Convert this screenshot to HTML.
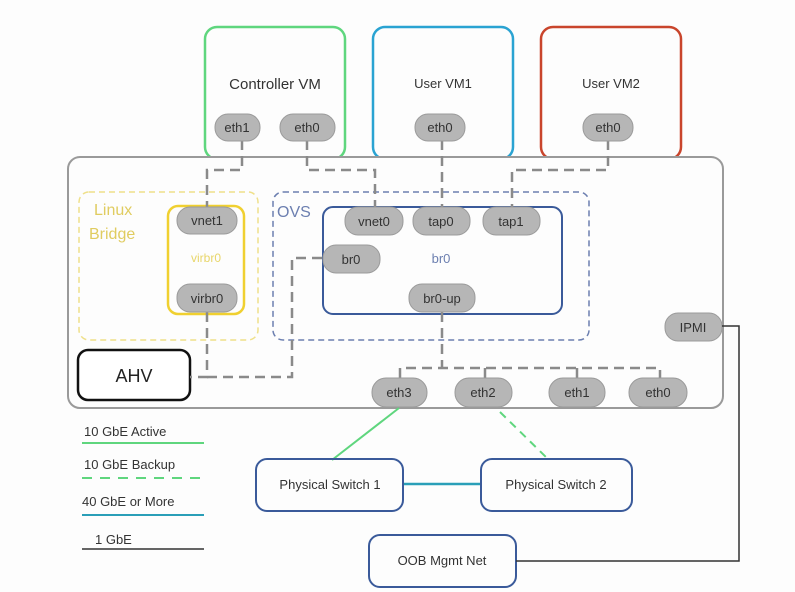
<!DOCTYPE html>
<html><head><meta charset="utf-8"><style>
html,body{margin:0;padding:0;background:#fdfdfd;}
svg{display:block;font-family:"Liberation Sans",sans-serif;}
</style></head><body>
<svg width="795" height="592" viewBox="0 0 795 592" xmlns="http://www.w3.org/2000/svg">
<rect width="795" height="592" fill="#fdfdfd"/>
<!-- VMs -->
<rect x="205" y="27" width="140" height="132" rx="12" fill="none" stroke="#5fd67e" stroke-width="2.5"/>
<text x="275" y="89" font-size="15" text-anchor="middle" fill="#333">Controller VM</text>
<rect x="373" y="27" width="140" height="132" rx="12" fill="none" stroke="#2aa3d2" stroke-width="2.5"/>
<text x="443" y="88" font-size="13" text-anchor="middle" fill="#333">User VM1</text>
<rect x="541" y="27" width="140" height="132" rx="12" fill="none" stroke="#c9452c" stroke-width="2.5"/>
<text x="611" y="88" font-size="13" text-anchor="middle" fill="#333">User VM2</text>
<!-- host -->
<rect x="68" y="157" width="655" height="251" rx="12" fill="#fdfdfd" stroke="#9a9a9a" stroke-width="2"/>
<!-- linux bridge -->
<rect x="79" y="192" width="179" height="148" rx="10" fill="none" stroke="#efe08a" stroke-width="1.5" stroke-dasharray="6,4"/>
<text x="94" y="215" font-size="16" fill="#e0cc60">Linux</text>
<text x="89" y="239" font-size="16" fill="#e0cc60">Bridge</text>
<rect x="168" y="206" width="76" height="108" rx="10" fill="none" stroke="#f0d030" stroke-width="2.5"/>
<text x="206" y="262" font-size="12" text-anchor="middle" fill="#e8d66a">virbr0</text>
<!-- OVS -->
<rect x="273" y="192" width="316" height="148" rx="10" fill="none" stroke="#6c7fb0" stroke-width="1.5" stroke-dasharray="6,4"/>
<text x="277" y="217" font-size="16" fill="#6c7fb0">OVS</text>
<rect x="323" y="207" width="239" height="107" rx="10" fill="none" stroke="#3a5a9a" stroke-width="2"/>
<text x="441" y="263" font-size="13" text-anchor="middle" fill="#6c7fb0">br0</text>
<!-- AHV -->
<rect x="78" y="350" width="112" height="50" rx="10" fill="#fff" stroke="#111" stroke-width="2.5"/>
<text x="134" y="382" font-size="18" text-anchor="middle" fill="#222">AHV</text>
<!-- dashed connectors -->
<g fill="none" stroke="#8a8a8a" stroke-width="2.5" stroke-dasharray="10,6">
<path d="M242 140 V170 H207 V207"/>
<path d="M307 140 V170 H375 V207"/>
<path d="M442 140 V207"/>
<path d="M608 140 V170 H512 V207"/>
<path d="M207 312 V377 H190"/>
<path d="M207 377 H292 V258 H323"/>
<path d="M442 312 V368"/>
<path d="M400 378 V368 H660 V378"/>
<path d="M485 368 V378"/>
<path d="M577 368 V378"/>
</g>
<!-- pills -->
<g fill="#b6b6b6" stroke="#9a9a9a" stroke-width="1">
<rect x="215" y="114" width="45" height="27" rx="13"/>
<rect x="280" y="114" width="55" height="27" rx="13"/>
<rect x="415" y="114" width="50" height="27" rx="13"/>
<rect x="583" y="114" width="50" height="27" rx="13"/>
<rect x="177" y="207" width="60" height="27" rx="13"/>
<rect x="177" y="284" width="60" height="28" rx="13"/>
<rect x="345" y="207" width="58" height="28" rx="13"/>
<rect x="413" y="207" width="57" height="28" rx="13"/>
<rect x="483" y="207" width="57" height="28" rx="13"/>
<rect x="323" y="245" width="57" height="28" rx="13"/>
<rect x="409" y="284" width="66" height="28" rx="13"/>
<rect x="665" y="313" width="57" height="28" rx="13"/>
<rect x="372" y="378" width="55" height="29" rx="14"/>
<rect x="455" y="378" width="57" height="29" rx="14"/>
<rect x="549" y="378" width="56" height="29" rx="14"/>
<rect x="629" y="378" width="58" height="29" rx="14"/>
</g>
<g font-size="13" text-anchor="middle" fill="#333">
<text x="237" y="132">eth1</text>
<text x="307" y="132">eth0</text>
<text x="440" y="132">eth0</text>
<text x="608" y="132">eth0</text>
<text x="207" y="225">vnet1</text>
<text x="207" y="303">virbr0</text>
<text x="374" y="226">vnet0</text>
<text x="441" y="226">tap0</text>
<text x="511" y="226">tap1</text>
<text x="351" y="264">br0</text>
<text x="442" y="303">br0-up</text>
<text x="693" y="332">IPMI</text>
<text x="399" y="397">eth3</text>
<text x="483" y="397">eth2</text>
<text x="577" y="397">eth1</text>
<text x="658" y="397">eth0</text>
</g>
<!-- physical -->
<line x1="399" y1="408" x2="332" y2="460" stroke="#5fd67e" stroke-width="2"/>
<line x1="500" y1="412" x2="549" y2="460" stroke="#5fd67e" stroke-width="2" stroke-dasharray="8,6"/>
<line x1="403" y1="484" x2="481" y2="484" stroke="#2a9fb8" stroke-width="2.5"/>
<rect x="256" y="459" width="147" height="52" rx="11" fill="none" stroke="#3a5a9a" stroke-width="2"/>
<text x="330" y="489" font-size="13" text-anchor="middle" fill="#333">Physical Switch 1</text>
<rect x="481" y="459" width="151" height="52" rx="11" fill="none" stroke="#3a5a9a" stroke-width="2"/>
<text x="556" y="489" font-size="13" text-anchor="middle" fill="#333">Physical Switch 2</text>
<rect x="369" y="535" width="147" height="52" rx="11" fill="none" stroke="#3a5a9a" stroke-width="2"/>
<text x="442" y="565" font-size="13" text-anchor="middle" fill="#333">OOB Mgmt Net</text>
<path d="M722 326 H739 V561 H516" fill="none" stroke="#333" stroke-width="1.5"/>
<!-- legend -->
<g font-size="13" fill="#333">
<text x="84" y="436">10 GbE Active</text>
<line x1="82" y1="443" x2="204" y2="443" stroke="#5fd67e" stroke-width="2"/>
<text x="84" y="469">10 GbE Backup</text>
<line x1="82" y1="478" x2="204" y2="478" stroke="#5fd67e" stroke-width="2" stroke-dasharray="10,8"/>
<text x="82" y="506">40 GbE or More</text>
<line x1="82" y1="515" x2="204" y2="515" stroke="#2a9fb8" stroke-width="2"/>
<text x="95" y="544">1 GbE</text>
<line x1="82" y1="549" x2="204" y2="549" stroke="#333" stroke-width="1.5"/>
</g>
</svg>
</body></html>
